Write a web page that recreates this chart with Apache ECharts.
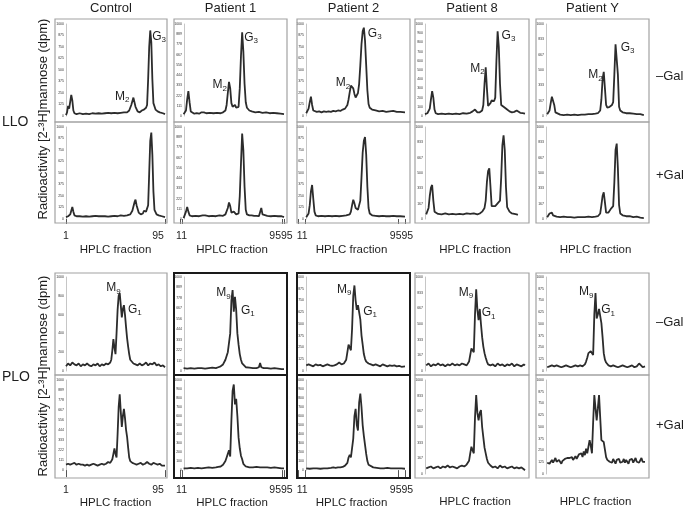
<!DOCTYPE html>
<html><head><meta charset="utf-8">
<script src="https://cdn.jsdelivr.net/npm/echarts@6/dist/echarts.min.js"></script>
<style>html,body{margin:0;padding:0;background:#fff}#c{width:685px;height:510px}</style>
</head><body><div id="c"></div>
<script>
// ---------- labels / categories ----------
const columns = ['Control', 'Patient 1', 'Patient 2', 'Patient 8', 'Patient Y'];
const groupNames = ['LLO', 'PLO'];
const conditionNames = ['\u2013Gal', '+Gal', '\u2013Gal', '+Gal'];
const yTitle = 'Radioactivity [2-\u00B3H]mannose (dpm)';
const xTitle = 'HPLC fraction';
const xTickLabels = [['1', '95'], ['11', '9595'], ['11', '9595'], [], []];
const yTickCounts = [[9, 10, 9, 11, 7], [9, 10, 9, 7, 7], [6, 10, 9, 7, 9], [10, 11, 11, 7, 9]];

// ---------- traces: [HPLC fraction, relative radioactivity (% of axis)] ----------
const llo_control_minusGal = [[1,1],[2,4],[3,11],[4,8],[5,10],[6,23],[7,17],[8,6],[9,3],[11,2],[14,3],[17,2],[20,2.5],[23,2],[26,3],[29,2.5],[32,3],[35,2.5],[38,3],[41,3.5],[44,3],[47,3.5],[50,3],[53,3.5],[56,4],[59,4],[61,6],[63,12],[65,20],[66,18],[67,10],[69,5],[71,4],[73,6],[74,8],[75,7],[76,6],[77,9],[78,12],[79,40],[80,75],[81,93],[82,80],[83,40],[84,14],[86,7],[88,5],[90,4],[93,3],[95,2]];
const llo_control_plusGal = [[1,2],[3,3],[5,5],[6,9],[7,13],[8,8],[9,4],[11,3],[14,3],[17,2.5],[20,3],[23,2.5],[26,3],[29,3.5],[32,3],[35,3],[38,3],[41,2.5],[44,3],[47,3.5],[50,3],[53,4],[56,3.5],[59,4],[62,5],[64,9],[66,18],[67,21],[68,15],[70,7],[72,5],[74,6],[75,9],[76,11],[77,8],[78,6],[79,15],[80,50],[81,85],[82,94],[83,70],[84,30],[85,10],[87,5],[89,4],[92,3],[95,2]];
const llo_p1_minusGal = [[11,2],[12,3],[13,6],[14,18],[15,27],[16,15],[17,5],[18,3],[20,2.5],[22,3],[24,2.5],[26,4],[27,5],[28,4],[30,3],[33,3.5],[36,3],[39,3.5],[42,3],[44,4],[46,6],[47,12],[48,25],[49,37],[50,30],[51,14],[52,10],[53,11],[54,12],[55,9],[56,8],[57,10],[58,30],[59,65],[60,91],[61,70],[62,35],[63,15],[64,9],[66,6],[68,5],[71,4],[74,4.5],[77,3.5],[80,4],[83,3],[86,3.5],[89,3],[92,2.5],[95,2]];
const llo_p1_plusGal = [[11,1],[12,3],[13,8],[14,13],[15,8],[16,4],[18,3],[21,3.5],[24,3],[27,4],[28,5],[29,4],[32,3],[35,3.5],[38,3],[41,4],[44,3.5],[46,5],[48,12],[49,18],[50,14],[51,7],[52,6],[53,8],[54,6],[55,5],[56,4],[57,6],[58,25],[59,60],[60,93],[61,75],[62,35],[63,10],[64,5],[66,4],[68,4],[70,3.5],[72,3.5],[74,3],[75,5],[76,12],[77,5],[78,3],[81,3.5],[84,3],[87,3.5],[90,3],[93,3],[95,2]];
const llo_p2_minusGal = [[11,3],[12,4],[13,8],[14,15],[15,21],[16,12],[17,6],[18,5],[20,4.5],[22,5],[24,4],[26,5],[28,4.5],[30,5],[32,4.5],[34,5.5],[36,5],[38,6],[40,5.5],[42,7],[44,8],[46,12],[47,18],[48,26],[49,33],[50,35],[51,30],[52,24],[53,20],[54,20],[55,25],[56,35],[57,55],[58,78],[59,92],[60,96],[61,82],[62,55],[63,28],[64,13],[65,9],[67,7],[70,6],[73,5],[76,5.5],[79,4.5],[82,5],[85,5.5],[88,4.5],[91,4.5],[95,4]];
const llo_p2_plusGal = [[11,2],[12,3],[13,6],[14,15],[15,30],[16,37],[17,22],[18,8],[19,4],[21,3],[24,3.5],[27,3],[30,3.5],[33,3],[36,3.5],[39,3],[42,3.5],[45,4],[48,5],[49,8],[50,15],[51,21],[52,17],[53,12],[54,10],[55,10],[56,12],[57,20],[58,45],[59,72],[60,85],[61,89],[62,70],[63,35],[64,12],[65,6],[67,4],[70,3.5],[73,3],[76,3.5],[79,3],[82,3],[85,3.5],[88,3],[91,3],[95,2.5]];
const llo_p8_minusGal = [[11,2],[13,3],[15,8],[16,18],[17,27],[18,20],[19,7],[20,3],[22,2],[25,2.5],[28,2],[31,2.5],[34,2],[37,2.5],[40,2],[43,3],[46,2.5],[49,3.5],[51,5],[53,7],[55,4],[57,4],[59,6],[60,12],[61,35],[62,53],[63,30],[64,11],[65,12],[66,14],[67,17],[68,18],[69,16],[70,20],[71,60],[72,92],[73,75],[74,35],[75,12],[77,10],[78,9],[80,7],[82,5],[84,4],[86,4.5],[88,6],[89,4],[91,3.5],[93,3],[95,2.5]];
const llo_p8_plusGal = [[12,5],[13,6],[14,12],[15,25],[16,34],[17,37],[18,20],[19,8],[20,6],[22,5.5],[25,5],[28,6],[31,5],[34,5.5],[37,5],[40,5.5],[43,5],[46,6],[49,5.5],[52,6],[55,5],[57,6],[59,8],[61,12],[62,20],[63,40],[64,52],[65,55],[66,35],[67,14],[68,12],[70,14],[71,15],[72,17],[73,16],[74,20],[75,45],[76,80],[77,91],[78,75],[79,35],[80,13],[82,8],[84,6],[86,5.5],[88,5],[89,4.5]];
const llo_pY_minusGal = [[12,2],[13,3],[14,6],[15,14],[16,21],[17,23],[18,12],[19,4],[20,2],[23,1.5],[26,1],[29,1.5],[32,1],[35,1.5],[38,1],[41,1.5],[44,1.5],[47,2],[50,2],[53,2.5],[55,3],[57,6],[58,18],[59,40],[60,48],[61,30],[62,12],[63,9],[64,8],[65,10],[66,11],[67,12],[68,15],[69,45],[70,78],[71,80],[72,45],[73,10],[74,6],[76,4],[79,3],[82,3],[85,2.5],[88,2],[91,2],[94,1]];
const llo_pY_plusGal = [[12,2],[13,4],[14,6],[15,8],[16,7],[17,4],[18,3],[20,2.5],[23,2],[26,2.5],[29,2],[32,2],[35,1.5],[38,2],[41,2],[44,2],[47,2.5],[50,2],[53,2.5],[55,3],[57,6],[58,15],[59,25],[60,29],[61,18],[62,7],[63,6],[64,7],[65,9],[66,11],[67,13],[68,14],[69,40],[70,75],[71,82],[72,55],[73,15],[74,6],[76,4],[79,3],[82,3],[85,2],[88,2.5],[91,1.5],[94,1]];

const plo_control_minusGal = [[1,5],[3,8],[5,6],[7,9],[9,7],[11,6],[13,8],[15,5],[17,7],[19,6],[21,8],[23,6],[25,5],[27,7],[29,6],[31,8],[33,5],[35,7],[37,6],[39,8],[41,7],[43,9],[44,12],[45,22],[46,34],[47,25],[48,18],[49,40],[50,65],[51,80],[52,83],[53,70],[54,57],[55,66],[56,70],[57,60],[58,47],[59,35],[60,26],[61,18],[62,12],[63,10],[65,8],[67,7],[69,6],[71,8],[73,6],[75,7],[77,9],[79,6],[81,8],[83,7],[85,9],[87,6],[89,7],[91,5],[93,6],[95,4]];
const plo_control_plusGal = [[1,6],[3,7],[5,6],[7,7],[9,8],[11,6],[13,7],[15,6],[17,6],[19,5],[21,6],[23,5],[25,6],[27,7],[29,6],[31,5],[33,6],[35,7],[37,6],[39,7],[41,9],[43,8],[45,12],[46,18],[47,24],[48,18],[49,14],[50,40],[51,70],[52,84],[53,65],[54,48],[55,60],[56,68],[57,58],[58,45],[59,37],[60,25],[61,14],[62,10],[64,8],[66,7],[68,6],[70,7],[72,8],[74,6],[76,7],[78,9],[80,7],[82,6],[84,8],[86,7],[88,6],[90,7],[92,5],[95,5]];
const plo_p1_minusGal = [[11,3],[14,2.5],[17,3],[20,2.5],[23,3],[26,3],[29,2.5],[32,3],[35,3.5],[38,3],[40,4],[42,5],[44,7],[46,12],[47,16],[48,20],[49,18],[50,40],[51,75],[52,86],[53,63],[54,79],[55,65],[56,40],[57,28],[58,18],[59,12],[60,8],[61,6],[63,4],[66,3.5],[69,3],[72,3],[74,4],[75,8.5],[76,4],[78,3],[81,3],[84,2.5],[87,3],[90,2.5],[93,2],[95,2]];
const plo_p1_plusGal = [[11,2],[14,2],[17,2.5],[20,2],[23,2.5],[26,2],[29,2.5],[32,3],[35,2.5],[38,3],[40,3.5],[42,4],[44,6],[46,10],[47,14],[48,18],[49,22],[50,15],[51,55],[52,88],[53,95],[54,73],[55,79],[56,60],[57,36],[58,24],[59,16],[60,12],[61,7],[63,4],[66,3],[69,3],[72,3.5],[75,3],[78,3],[81,3],[84,2.5],[87,3],[90,2.5],[93,2],[95,2]];
const plo_p2_minusGal = [[11,6],[13,7],[15,6],[17,5],[19,7],[21,6],[23,6.5],[25,5],[27,6],[29,7],[31,6],[33,5.5],[35,6],[37,7],[39,9],[41,7],[43,8],[45,12],[46,20],[47,28],[48,30],[49,22],[50,45],[51,80],[52,91],[53,75],[54,65],[55,70],[56,72],[57,55],[58,38],[59,28],[60,18],[61,13],[62,10],[64,8],[66,7],[68,6],[70,7],[72,6],[74,5],[76,7],[78,6],[80,5],[82,6],[84,5.5],[86,6],[88,5],[90,5.5],[92,4.5],[95,5]];
const plo_p2_plusGal = [[11,2],[14,1.5],[17,2],[20,2],[23,1.5],[26,2],[29,2],[32,2.5],[33,4],[34,3],[36,2.5],[38,3],[40,3],[42,3.5],[44,5],[46,8],[47,14],[48,17],[49,14],[50,14],[51,35],[52,60],[53,68],[54,50],[55,44],[56,75],[57,85],[58,70],[59,50],[60,38],[61,28],[62,18],[63,10],[64,6],[65,4],[68,3],[71,2.5],[74,2],[77,2],[80,2.5],[83,2],[86,2],[89,2],[92,2],[95,1.5]];
const plo_p8_minusGal = [[12,6],[14,8],[16,5],[18,7],[20,6],[22,8],[24,6],[26,7],[28,5],[30,7],[32,6],[34,8],[36,6],[38,7],[40,6],[42,8],[44,7],[46,6],[48,10],[49,17],[50,24],[51,22],[52,20],[53,60],[54,87],[55,65],[56,54],[57,66],[58,50],[59,36],[60,26],[61,19],[62,14],[63,10],[64,7],[66,6],[68,7],[70,5],[72,8],[74,6],[76,7],[78,5],[80,7],[82,6],[84,8],[86,5],[88,7],[90,6],[92,5],[94,7],[95,6]];
const plo_p8_plusGal = [[12,6],[14,7],[16,8],[18,6],[20,7],[22,8],[24,6],[26,8],[28,7],[30,9],[32,7],[34,8],[36,7],[38,6],[40,8],[42,9],[44,8],[46,10],[48,14],[49,22],[50,29],[51,25],[52,22],[53,60],[54,84],[55,65],[56,57],[57,65],[58,68],[59,50],[60,39],[61,28],[62,22],[63,16],[64,12],[66,9],[68,7],[70,8],[72,6],[74,9],[76,7],[78,8],[80,6],[82,7],[84,8],[86,6],[88,7],[90,6],[92,7],[94,5],[95,4]];
const plo_pY_minusGal = [[12,4],[14,5],[16,6],[18,5],[20,6],[22,5],[24,4],[26,5],[28,6],[30,5],[32,4],[34,5],[36,6],[38,5],[40,6],[42,5],[44,7],[45,10],[46,14],[47,19],[48,20],[49,21],[50,22],[51,17],[52,60],[53,83],[54,56],[55,60],[56,66],[57,68],[58,51],[59,36],[60,19],[61,12],[62,9],[64,6],[66,5],[68,6],[70,5],[72,4],[74,5],[76,6],[78,5],[80,4],[82,5],[84,6],[86,4],[88,5],[90,8],[91,6],[93,4],[95,5]];
const plo_pY_plusGal = [[12,12],[13,14],[14,11],[15,13],[16,15],[17,12],[18,14],[19,17],[20,13],[21,12],[22,15],[23,13],[24,11],[25,14],[26,13],[27,16],[28,18],[29,17],[30,15],[31,17],[32,16],[33,18],[34,15],[35,17],[36,19],[37,16],[38,18],[39,21],[40,19],[41,22],[42,18],[43,24],[44,20],[45,27],[46,22],[47,29],[48,36],[49,30],[50,22],[51,55],[52,84],[53,70],[54,57],[55,70],[56,84],[57,60],[58,36],[59,34],[60,34],[61,26],[62,18],[63,15],[64,17],[65,13],[66,15],[67,12],[68,16],[69,14],[70,11],[71,15],[72,13],[73,16],[74,12],[75,14],[76,13],[77,16],[78,12],[79,15],[80,13],[81,11],[82,15],[83,13],[84,16],[85,12],[86,14],[87,17],[88,13],[89,15],[90,12],[91,14],[92,17],[93,13],[94,15],[95,13]];

// peak annotations: [row, col, fraction, letter, subscript]
const peakLabels = [
  [0,0,65,'M','2'],[0,0,81,'G','3'],
  [0,1,49,'M','2'],[0,1,60,'G','3'],
  [0,2,50,'M','2'],[0,2,60,'G','3'],
  [0,3,62,'M','2'],[0,3,72,'G','3'],
  [0,4,60,'M','2'],[0,4,71,'G','3'],
  [2,0,52,'M','9'],[2,0,56,'G','1'],
  [2,1,52,'M','9'],[2,1,54,'G','1'],
  [2,2,52,'M','9'],[2,2,56,'G','1'],
  [2,3,54,'M','9'],[2,3,57,'G','1'],
  [2,4,53,'M','9'],[2,4,57,'G','1']
];

// ---------- layout (pixels) ----------
const peakLabelPlacement = [
  ['left',4,-1],['right',2,6],['left',2,3],['right',2,5],['left',2,-1],['right',4,6],
  ['left',1,1],['right',4,4],['left',1,3],['right',4,5],
  ['left',-1,-5],['right',4,4],['left',2,3],['right',6,14],['left',3,4],['right',4,8],
  ['left',3,3],['right',2,4],['left',2,-1],['right',1,3]
];
const colBox = [[55,167],[174,287],[297,410],[415,529],[536,649]];
const colPlot = [[66,165],[180,284],[298,405],[425,525],[546,645]];
const colAxisShift = [0,-4,-8,0,0];
const colXRange = [[1,95],[8,95],[4,95],[11,95],[11,95]];
const colXTickAt = [[1,95],[8,9.7,93.3,95],[4,10,89,95],[],[]];
const colXLabelAt = [[1,88.4],[9.3,92.5],[7.5,92],[],[]];
const rowBox = [[19,122],[122,223],[273,375],[375,478]];
const rowPlot = [[24,116],[127,219],[277,371],[380,474]];
const FONT = 'Liberation Sans, Arial, Helvetica, sans-serif';
const TXT = '#1e1e1e';

const panelData = [
  [llo_control_minusGal, llo_p1_minusGal, llo_p2_minusGal, llo_p8_minusGal, llo_pY_minusGal],
  [llo_control_plusGal, llo_p1_plusGal, llo_p2_plusGal, llo_p8_plusGal, llo_pY_plusGal],
  [plo_control_minusGal, plo_p1_minusGal, plo_p2_minusGal, plo_p8_minusGal, plo_pY_minusGal],
  [plo_control_plusGal, plo_p1_plusGal, plo_p2_plusGal, plo_p8_plusGal, plo_pY_plusGal]
];

const grid = [], xAxis = [], yAxis = [], series = [];
for (let r = 0; r < 4; r++) {
  for (let c = 0; c < 5; c++) {
    const i = grid.length;
    grid.push({ left: colPlot[c][0], top: rowPlot[r][0],
      width: colPlot[c][1] - colPlot[c][0], height: rowPlot[r][1] - rowPlot[r][0], show: false });
    const isBottom = (r === 1 || r === 3);
    const bottomGroup = r === 3;
    xAxis.push({
      gridIndex: i, type: 'value', min: colXRange[c][0], max: colXRange[c][1],
      show: isBottom,
      offset: rowBox[r][1] - rowPlot[r][1],
      axisLine: { show: false },
      splitLine: { show: false },
      axisTick: { show: colXTickAt[c].length > 0, customValues: colXTickAt[c],
        length: bottomGroup ? 7 : 5, lineStyle: { color: '#555', width: 1 } },
      axisLabel: { show: colXLabelAt[c].length > 0, customValues: colXLabelAt[c],
        margin: bottomGroup ? 11 : 8, fontSize: 10.5, color: TXT, fontFamily: FONT,
        formatter: (v) => {
          let k = 0, best = 1e9;
          colXLabelAt[c].forEach((p, j) => { if (Math.abs(p - v) < best) { best = Math.abs(p - v); k = j; } });
          return xTickLabels[c][k] || '';
        } },
      name: isBottom ? xTitle : '', nameLocation: 'middle', nameGap: bottomGroup ? 18 : 21,
      nameTextStyle: { fontSize: 11.5, color: TXT, fontFamily: FONT }
    });
    const n = yTickCounts[r][c];
    const yVals = [];
    for (let k = 0; k < n; k++) yVals.push(k * 100 / (n - 1));
    yAxis.push({
      gridIndex: i, type: 'value', min: 0, max: 100, offset: colAxisShift[c],
      axisLine: { show: true, lineStyle: { color: '#c6c6c6', width: 1 } },
      axisTick: { show: false }, splitLine: { show: false },
      axisLabel: { customValues: yVals, fontSize: 3.5, color: '#333', margin: 2,
        fontFamily: FONT, formatter: (v) => String(Math.round(v * 10)) }
    });
    const marks = [];
    peakLabels.forEach((p, j) => {
      if (p[0] !== r || p[1] !== c) return;
      const pt = panelData[r][c].find(d => d[0] === p[2]);
      const pl = peakLabelPlacement[j];
      marks.push({ coord: [p[2], pt ? pt[1] : 0],
        label: { show: true, position: pl[0], distance: pl[1], offset: [0, pl[2]],
          formatter: '{b|' + p[3] + '}{s|' + p[4] + '}' } });
    });
    series.push({
      type: 'line', xAxisIndex: i, yAxisIndex: i, data: panelData[r][c],
      symbol: 'none', smooth: false, silent: true,
      lineStyle: { color: '#2c2c2c', width: 1.8 },
      markPoint: marks.length ? {
        symbol: 'circle', symbolSize: 0, silent: true, data: marks,
        label: { color: TXT, rich: {
          b: { fontSize: 12, fontFamily: FONT, color: TXT },
          s: { fontSize: 8, fontFamily: FONT, color: TXT, padding: [7, 0, 0, 0] } } }
      } : undefined
    });
  }
}

const graphic = [];
// panel frames
for (let r = 0; r < 4; r++) {
  for (let c = 0; c < 5; c++) {
    const bold = r >= 2 && (c === 1 || c === 2);
    if (bold) continue;
    graphic.push({ type: 'rect', z: 10, shape: { x: colBox[c][0], y: rowBox[r][0],
      width: colBox[c][1] - colBox[c][0], height: rowBox[r][1] - rowBox[r][0] },
      style: { fill: null, stroke: '#a2a2a2', lineWidth: 1.2 } });
  }
}
for (let r = 2; r < 4; r++) {
  for (const c of [1, 2]) {
    graphic.push({ type: 'rect', z: 11, shape: { x: colBox[c][0], y: rowBox[r][0],
      width: colBox[c][1] - colBox[c][0], height: rowBox[r][1] - rowBox[r][0] },
      style: { fill: null, stroke: '#1a1a1a', lineWidth: 2 } });
  }
}
// column titles
columns.forEach((t, c) => graphic.push({ type: 'text', x: (colBox[c][0] + colBox[c][1]) / 2, y: 8,
  style: { text: t, fill: TXT, font: '13px ' + FONT, textAlign: 'center', textVerticalAlign: 'middle' } }));
// group names
groupNames.forEach((t, g) => graphic.push({ type: 'text', x: 2, y: g === 0 ? 122 : 377,
  style: { text: t, fill: TXT, font: '14px ' + FONT, textAlign: 'left', textVerticalAlign: 'middle' } }));
// condition names
conditionNames.forEach((t, r) => graphic.push({ type: 'text', x: 656, y: [76, 175, 322, 425][r],
  style: { text: t, fill: TXT, font: '13px ' + FONT, textAlign: 'left', textVerticalAlign: 'middle' } }));
// y titles
[119, 376].forEach(cy => graphic.push({ type: 'text', x: 43, y: cy, rotation: Math.PI / 2,
  style: { text: yTitle, fill: TXT, font: '13px ' + FONT, textAlign: 'center', textVerticalAlign: 'middle' } }));

const chart = echarts.init(document.getElementById('c'), null, { renderer: 'canvas' });
chart.setOption({ animation: false, backgroundColor: '#fff', grid, xAxis, yAxis, series, graphic });
</script></body></html>
